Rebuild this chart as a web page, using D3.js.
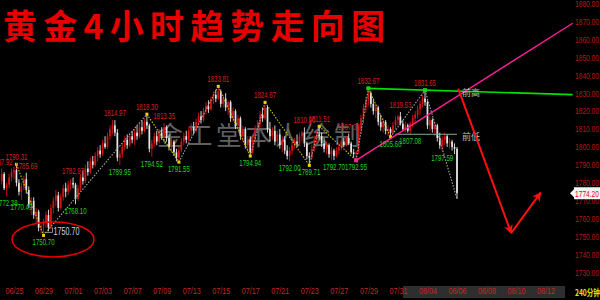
<!DOCTYPE html>
<html>
<head>
<meta charset="utf-8">
<title>黄金4小时趋势走向图</title>
<script src="https://cdn.jsdelivr.net/npm/d3@7"></script>
<style>
  html, body { margin: 0; padding: 0; background: #000; }
  svg { display: block; }
</style>
</head>
<body>
<svg id="chart" width="600" height="300"></svg>
<script>
// ---- data ----
var dayLabels = ["06/25","06/29","07/01","07/03","07/07","07/09","07/13","07/15","07/17","07/21",
                 "07/23","07/27","07/29","07/31","08/04","08/06","08/08","08/10","08/12"];
var barsPerLabel = 12;   // 6 bars of 240 min a day, a label every 2 days
var firstBar = -5;       // bars before the 06/25 label

// [open, high, low, close]
var candles = [
  [1781,1787.92,1779,1785],[1785,1786,1776,1777],[1777,1780,1772.38,1779],[1779,1785,1777,1783],[1783,1788,1781,1786],
  [1786,1789,1782,1787],[1787,1790.31,1778,1780],[1780,1782,1773,1775],[1775,1780,1770.49,1778],[1778,1784,1776,1782],
  [1782,1785.69,1774,1776],[1776,1778,1766,1768],[1768,1772,1762,1770],[1770,1772,1760,1762],[1762,1766,1757,1764],
  [1764,1765,1753,1755],[1755,1758,1751.5,1756],[1756,1760,1750.70,1758],[1758,1764,1755,1762],[1762,1765,1753,1755],
  [1755,1768,1754,1766],[1766,1772,1763,1770],[1770,1776,1767,1773],[1773,1775,1764,1766],[1766,1774,1765,1772],
  [1772,1779,1770,1777],[1777,1780,1772,1775],[1775,1781,1773,1779],[1779,1782,1776,1780],[1780,1782.97,1777,1779],
  [1779,1780,1768.10,1771],[1771,1779,1770,1777],[1777,1785,1775,1783],[1783,1787,1779,1781],[1781,1790,1780,1788],
  [1788,1792,1784,1786],[1786,1794,1785,1792],[1792,1795,1788,1790],[1790,1797,1789,1795],[1795,1800,1792,1798],
  [1798,1801,1794,1796],[1796,1804,1795,1802],[1802,1806,1799,1800],[1800,1808,1799,1806],[1806,1812,1804,1810],
  [1810,1815,1807,1812],[1812,1814.97,1806,1808],[1808,1810,1792,1794],[1794,1798,1789.95,1796],[1796,1802,1794,1800],
  [1800,1806,1798,1804],[1804,1807,1799,1801],[1801,1808,1800,1806],[1806,1809,1802,1804],[1804,1810,1801,1808],
  [1808,1812,1804,1806],[1806,1813,1805,1811],[1811,1815,1807,1809],[1809,1816,1808,1814],[1814,1818.30,1810,1812],
  [1812,1813,1797,1799],[1799,1804,1794.52,1802],[1802,1808,1800,1806],[1806,1809,1801,1803],[1803,1810,1802,1808],
  [1808,1811,1804,1806],[1806,1813.35,1805,1811],[1811,1812,1803,1805],[1805,1807,1798,1800],[1800,1805,1797,1803],
  [1803,1804,1795,1797],[1797,1799,1792,1794],[1794,1800,1791.55,1798],[1798,1805,1797,1803],[1803,1808,1801,1806],
  [1806,1809,1802,1804],[1804,1811,1803,1809],[1809,1813,1806,1811],[1811,1814,1807,1809],[1809,1816,1808,1814],
  [1814,1819,1812,1817],[1817,1820,1813,1815],[1815,1822,1814,1820],[1820,1825,1818,1823],[1823,1826,1819,1821],
  [1821,1828,1820,1826],[1826,1831,1824,1829],[1829,1832,1825,1827],[1827,1833.81,1826,1831],[1831,1832,1822,1824],
  [1824,1829,1822,1827],[1827,1830,1820,1822],[1822,1826,1818,1825],[1825,1826,1814,1816],[1816,1822,1814,1820],
  [1820,1821,1810,1812],[1812,1818,1810,1816],[1816,1817,1804,1806],[1806,1812,1803,1810],[1810,1811,1799,1801],
  [1801,1806,1797,1804],[1804,1806,1794.94,1797],[1797,1806,1796,1804],[1804,1812,1802,1810],[1810,1815,1807,1813],
  [1813,1820,1811,1818],[1818,1822,1814,1816],[1816,1824.87,1815,1822],[1822,1823,1808,1810],[1810,1814,1803,1806],
  [1806,1811,1804,1809],[1809,1812,1801,1803],[1803,1809,1800,1807],[1807,1810,1799,1801],[1801,1806,1797,1804],
  [1804,1806,1796,1798],[1798,1801,1793,1795],[1795,1800,1792.00,1798],[1798,1803,1796,1801],[1801,1805,1799,1803],
  [1803,1807,1800,1802],[1802,1808,1801,1806],[1806,1809,1803,1808],[1808,1810.90,1800,1802],[1802,1803,1793,1795],
  [1795,1797,1789.71,1794],[1794,1801,1793,1799],[1799,1806,1797,1804],[1804,1809,1802,1807],[1807,1811.51,1804,1806],
  [1806,1808,1800,1802],[1802,1805,1797,1799],[1799,1803,1796,1801],[1801,1802,1794,1796],[1796,1800,1793,1798],
  [1798,1799,1792.70,1795],[1795,1800,1794,1798],[1798,1802,1796,1800],[1800,1804,1798,1803],[1803,1805,1800,1801],
  [1801,1806,1800,1805],[1805,1807.38,1801,1802],[1802,1803,1796,1797],[1797,1799,1794,1796],[1796,1798,1792.55,1797],
  [1797,1812,1796,1810],[1810,1818,1807,1816],[1816,1824,1813,1822],[1822,1828,1819,1826],[1826,1832.67,1823,1830],
  [1830,1831,1822,1824],[1824,1827,1818,1820],[1820,1824,1816,1822],[1822,1823,1812,1814],[1814,1818,1809,1811],
  [1811,1816,1808,1814],[1814,1815,1807,1809],[1809,1812,1806,1810],[1810,1811,1805.60,1808],[1808,1814,1807,1812],
  [1812,1817,1810,1815],[1815,1818,1812,1817],[1817,1819.53,1812,1813],[1813,1815,1809,1810],[1810,1814,1808,1812],
  [1812,1813,1808,1809],[1809,1814,1807.08,1813],[1813,1818,1811,1816],[1816,1820,1813,1818],[1818,1823,1816,1821],
  [1821,1826,1818,1824],[1824,1829,1822,1827],[1827,1831.65,1823,1825],[1825,1826,1810,1812],[1812,1817,1809,1815],
  [1815,1816,1808,1810],[1810,1814,1806,1812],[1812,1813,1803,1805],[1805,1808,1799,1801],[1801,1806,1797.59,1804],
  [1804,1808,1801,1806],[1806,1807,1800,1802],[1802,1805,1799,1803],[1803,1804,1798,1800],[1800,1802,1796,1799],
  [1799,1800,1771,1774.20]
];

// swing labels: [bar, price, "H" or "L"]
var pivots = [
  [-5,1787.92,"H"],[-3,1772.38,"L"],[1,1790.31,"H"],[3,1770.49,"L"],[5,1785.69,"H"],[12,1750.70,"L"],
  [24,1782.97,"H"],[25,1768.10,"L"],[41,1814.97,"H"],[43,1789.95,"L"],[54,1818.30,"H"],[56,1794.52,"L"],
  [61,1813.35,"H"],[67,1791.55,"L"],[83,1833.81,"H"],[96,1794.94,"L"],[102,1824.87,"H"],[112,1792.00,"L"],
  [118,1810.90,"H"],[120,1789.71,"L"],[124,1811.51,"H"],[130,1792.70,"L"],[136,1807.38,"H"],[139,1792.55,"L"],
  [144,1832.67,"H"],[153,1805.60,"L"],[157,1819.53,"H"],[161,1807.08,"L"],[167,1831.65,"H"],[174,1797.59,"L"]
];

// main zigzag turning points [bar, price]
var zigzag = [[1,1790.31],[12,1750.70],[54,1818.30],[67,1791.55],[83,1833.81],[96,1794.94],[102,1824.87],
              [120,1789.71],[124,1811.51],[139,1792.55],[144,1832.67],[153,1805.60],[167,1831.65],[180,1771]];

var lowestMark = [12, 1750.70];
var yTicks = [1730,1740,1750,1760,1770,1780,1790,1800,1810,1820,1830,1840,1850,1860,1870,1880];
var lastPrice = 1774.20;
var supportLine = [[139,1792.55],[227,1869]];      // pink rising line
var prevHighLine = [[144,1832.67],[227,1829.2]];   // 前高
var prevLowLine = [[155,1807.08],[180,1807.08]];   // 前低
var forecast = [[180.5,1832.5],[202,1752],[214,1774.5]];

// ---- drawing ----
var svg = d3.select("#chart");
var W = 600, H = 300;
var upColor = "#d41414", downColor = "#e6e6e6";

var x = d3.scaleLinear().domain([0, 180]).range([14, 457]);
var y = d3.scaleLinear().domain([1730, 1880]).range([272.5, 3.5]);

svg.append("rect").attr("width", W).attr("height", H).attr("fill", "#000");

var defs = svg.append("defs");
defs.append("marker").attr("id", "arrow").attr("viewBox", "0 0 10 10")
  .attr("refX", 9).attr("refY", 5).attr("markerWidth", 9).attr("markerHeight", 9)
  .attr("markerUnits", "userSpaceOnUse").attr("orient", "auto")
  .append("path").attr("d", "M0,0L10,5L0,10L3,5z").attr("fill", "#ff1010");

// future part of the time strip
svg.append("rect").attr("x", 403).attr("y", 286).attr("width", 162).attr("height", 12)
  .attr("fill", "#2e2e2e");

// watermark
svg.append("text").attr("x", 157).attr("y", 145)
  .attr("textLength", 203).attr("lengthAdjust", "spacing")
  .style("font-family", "'Noto Sans CJK SC', sans-serif").style("font-size", "26px")
  .attr("fill", "#808080").attr("fill-opacity", 0.75)
  .text("金工堂本人绘制");

// candles
var bars = candles.map(function(c, k) {
  return { i: firstBar + k, o: c[0], h: c[1], l: c[2], c: c[3] };
});
var cg = svg.append("g");
cg.selectAll("line").data(bars).enter().append("line")
  .attr("x1", function(d) { return x(d.i); }).attr("x2", function(d) { return x(d.i); })
  .attr("y1", function(d) { return y(d.h); }).attr("y2", function(d) { return y(d.l); })
  .attr("stroke", function(d) { return d.c >= d.o ? upColor : downColor; })
  .attr("stroke-width", 0.9);
cg.selectAll("rect").data(bars).enter().append("rect")
  .attr("x", function(d) { return x(d.i) - 0.85; }).attr("width", 1.7)
  .attr("y", function(d) { return y(Math.max(d.o, d.c)); })
  .attr("height", function(d) { return Math.max(0.8, Math.abs(y(d.o) - y(d.c))); })
  .attr("fill", function(d) { return d.c >= d.o ? upColor : downColor; });

// zigzag legs
var zg = svg.append("g");
for (var k = 0; k < zigzag.length - 1; k++) {
  var a = zigzag[k], b = zigzag[k + 1];
  var falling = b[1] < a[1] && k < zigzag.length - 2;
  zg.append("line")
    .attr("x1", x(a[0])).attr("y1", y(a[1])).attr("x2", x(b[0])).attr("y2", y(b[1]))
    .attr("stroke", falling ? "#c8c000" : "#a8a8a8")
    .attr("stroke-width", 1.1).attr("stroke-dasharray", "1.5,1.5");
}
zg.selectAll("rect").data(zigzag.slice(0, -1)).enter().append("rect")
  .attr("x", function(d) { return x(d[0]) - 1.5; }).attr("y", function(d) { return y(d[1]) - 1.5; })
  .attr("width", 3).attr("height", 3).attr("fill", "#f0d000");

// lines
var line = d3.line().x(function(d) { return x(d[0]); }).y(function(d) { return y(d[1]); });
svg.append("path").attr("d", line(prevLowLine)).attr("fill", "none")
  .attr("stroke", "#7fae90").attr("stroke-width", 1);
svg.append("path").attr("d", line(prevHighLine)).attr("fill", "none")
  .attr("stroke", "#00e000").attr("stroke-width", 1.6);
svg.append("path").attr("d", line(supportLine)).attr("fill", "none")
  .attr("stroke", "#ff1f96").attr("stroke-width", 1.4);

[[prevHighLine[0], "#00e000"], [[167, 1831.65], "#00e000"], [supportLine[0], "#ff1f96"]].forEach(function(p) {
  svg.append("rect").attr("x", x(p[0][0]) - 2).attr("y", y(p[0][1]) - 2)
    .attr("width", 4).attr("height", 4).attr("fill", p[1]);
});

svg.append("text").attr("x", x(182)).attr("y", y(prevHighLine[1][1] + 1.2) + 4)
  .style("font-family", "'Noto Sans CJK SC', sans-serif").style("font-size", "9px")
  .attr("fill", "#a8c4b0").text("前高");
svg.append("text").attr("x", x(182)).attr("y", y(prevLowLine[1][1]) + 6)
  .style("font-family", "'Noto Sans CJK SC', sans-serif").style("font-size", "9px")
  .attr("fill", "#a8c4b0").text("前低");

// pivot labels
svg.append("g").selectAll("text").data(pivots).enter().append("text")
  .attr("x", function(d) { return x(d[0]); })
  .attr("y", function(d) { return d[2] === "H" ? y(d[1]) - 4 : y(d[1]) + 10; })
  .attr("text-anchor", "middle")
  .attr("textLength", 22).attr("lengthAdjust", "spacingAndGlyphs")
  .style("font-family", "'Liberation Sans', Arial, sans-serif").style("font-size", "9px")
  .attr("fill", function(d) { return d[2] === "H" ? "#d42020" : "#20d020"; })
  .text(function(d) { return d[1].toFixed(2); });

// lowest mark and circle
var lx = x(lowestMark[0]), ly = y(lowestMark[1]);
svg.append("path").attr("d", "M" + (lx + 1) + "," + (ly - 3) + "H" + (lx + 9) + "V" + (ly - 8))
  .attr("fill", "none").attr("stroke", "#909090").attr("stroke-width", 1);
svg.append("text").attr("x", lx + 10).attr("y", ly - 0.5)
  .attr("textLength", 26).attr("lengthAdjust", "spacingAndGlyphs")
  .style("font-family", "'Liberation Sans', Arial, sans-serif").style("font-size", "10px")
  .attr("fill", "#d0d8e8").text(lowestMark[1].toFixed(2));
svg.append("ellipse").attr("cx", lx + 9.5).attr("cy", ly + 4).attr("rx", 41).attr("ry", 17.5)
  .attr("fill", "none").attr("stroke", "#e80000").attr("stroke-width", 1.5);

// forecast arrows
for (var f = 0; f < forecast.length - 1; f++) {
  svg.append("line")
    .attr("x1", x(forecast[f][0])).attr("y1", y(forecast[f][1]))
    .attr("x2", x(forecast[f + 1][0])).attr("y2", y(forecast[f + 1][1]))
    .attr("stroke", "#ff1010").attr("stroke-width", 2)
    .attr("marker-end", "url(#arrow)");
}

// right price axis
var yAxis = svg.append("g").attr("transform", "translate(572,0)")
  .call(d3.axisRight(y).tickValues(yTicks).tickSize(0).tickPadding(3).tickFormat(d3.format(".2f")));
yAxis.select(".domain").remove();
yAxis.selectAll("text").attr("fill", "#b81818")
  .attr("textLength", 24).attr("lengthAdjust", "spacingAndGlyphs")
  .style("font-family", "'Liberation Sans', Arial, sans-serif").style("font-size", "9px");

// last price tag
var py = y(lastPrice);
svg.append("path").attr("d", "M570," + py + "L574," + (py - 4) + "V" + (py + 4) + "z").attr("fill", "#f4f4f4");
svg.append("rect").attr("x", 574).attr("y", py - 6).attr("width", 26).attr("height", 12).attr("fill", "#f4f4f4");
svg.append("text").attr("x", 575).attr("y", py + 3.5)
  .attr("textLength", 24).attr("lengthAdjust", "spacingAndGlyphs")
  .style("font-family", "'Liberation Sans', Arial, sans-serif").style("font-size", "9px")
  .attr("fill", "#d01010").text(lastPrice.toFixed(2));

// time axis
var xAxis = svg.append("g").attr("transform", "translate(0,287)")
  .call(d3.axisBottom(x)
    .tickValues(dayLabels.map(function(d, k) { return k * barsPerLabel; }))
    .tickSize(0).tickPadding(1)
    .tickFormat(function(d) { return dayLabels[d / barsPerLabel]; }));
xAxis.select(".domain").remove();
xAxis.selectAll("text").attr("fill", "#c02828")
  .attr("textLength", 18).attr("lengthAdjust", "spacingAndGlyphs")
  .style("font-family", "'Liberation Sans', Arial, sans-serif").style("font-size", "9px");

svg.append("text").attr("x", 575).attr("y", 296)
  .attr("textLength", 25).attr("lengthAdjust", "spacingAndGlyphs")
  .style("font-family", "'Noto Sans CJK SC', sans-serif").style("font-size", "9.5px").style("font-weight", "bold")
  .attr("fill", "#e8e000").text("240分钟");

// title
svg.append("text").attr("x", 3).attr("y", 39)
  .attr("textLength", 382).attr("lengthAdjust", "spacing")
  .style("font-family", "'Noto Sans CJK SC', sans-serif").style("font-size", "34px").style("font-weight", "bold")
  .attr("fill", "#e60000").text("黄金4小时趋势走向图");
</script>
</body>
</html>
